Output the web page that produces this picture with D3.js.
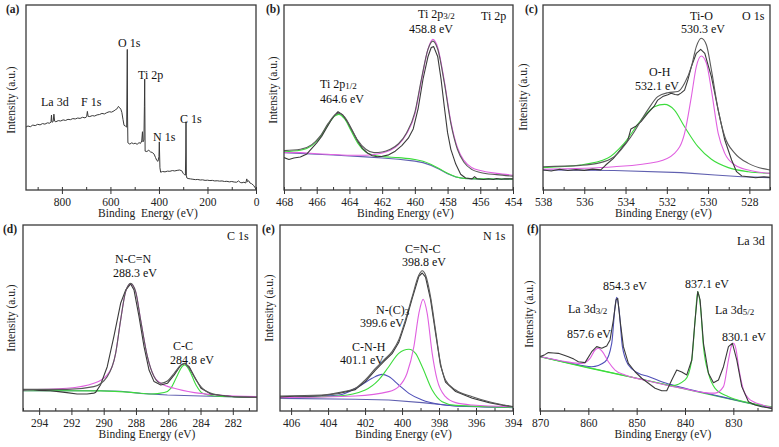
<!DOCTYPE html>
<html><head><meta charset="utf-8">
<script src="https://cdn.jsdelivr.net/npm/d3@7/dist/d3.min.js"></script>
<style>html,body{margin:0;padding:0;background:#fff}svg{display:block}</style>
</head><body>
<svg id="c" width="779" height="447"></svg>
<script>
// ---------- DATA (binding energy eV, intensity a.u.) ----------
const surveyTicks = [800, 600, 400, 200, 0];
const surveySpectrum = [[948,34],[940,34.6],[930,34.2],[920,35.1],[910,34.8],[900,35.5],[890,35.2],[880,35.9],[870,35.6],[860,36.3],[850,36.1],[845,36.8],[843,40.5],[841,36.6],[836,37],[833,41],[830,37.2],[825,36.9],[815,37.5],[805,37.3],[795,37.9],[785,37.6],[775,38.2],[765,38],[755,38.6],[745,38.4],[735,38.9],[725,38.7],[715,39.3],[705,39],[698,39.6],[695,42.5],[692,39.8],[685,39.7],[675,40.2],[665,40],[655,40.6],[645,40.8],[635,41.4],[625,41.1],[615,41.8],[605,42.3],[595,42.1],[585,42.8],[578,43.5],[572,44],[567,45.2],[562,44.5],[557,43.6],[553,42],[548,38],[544,35],[538,34.5],[533,34],[531.5,60],[530.5,76],[529.5,40],[528,25.5],[520,24.8],[512,25.5],[505,25],[498,25.3],[490,24.7],[482,25.6],[476,25.2],[471,26.5],[468,31.5],[466,26],[462,27],[460,45],[458.8,60],[457,21],[450,20.8],[442,21.5],[435,20.6],[428,20.3],[420,19.4],[414,17.5],[409,16],[404,15.5],[400,18],[398.5,26],[396,12],[393,9.6],[385,10],[375,9.8],[365,10.2],[355,10.1],[345,10.5],[335,10.3],[325,10.6],[315,10.8],[306,10.4],[300,9],[295,8.3],[291,8],[289.5,20],[288.5,36.9],[287,8],[285,6.5],[280,6.2],[270,6],[260,5.8],[250,5.6],[240,5.7],[230,5.4],[220,5.5],[210,5.2],[200,5.3],[190,5.1],[180,5.2],[170,4.9],[160,5],[150,4.8],[140,4.9],[130,4.6],[120,4.7],[110,4.4],[100,4.6],[90,4.3],[80,4.2],[72,4.9],[65,4.1],[58,3.9],[50,4.2],[42,3.8],[38,6],[35,4.5],[30,5],[25,3.8],[18,3.4],[10,2.5],[5,1.5],[0,0.4]];

const tiTicks = [468, 466, 464, 462, 460, 458, 456, 454];
const tiRaw = [[468,17.5],[467.7,16.5],[467.4,17.3],[467,17.8],[466.6,19.5],[466.3,22.5],[466,25.5],[465.7,29],[465.4,33.5],[465.1,38],[464.9,40.5],[464.7,42.3],[464.4,40.5],[464.1,36.5],[463.8,31.5],[463.5,26.5],[463.2,22.5],[462.9,20],[462.6,18.5],[462.3,18],[462,18.2],[461.6,19],[461.2,21],[460.8,24],[460.4,28],[460.1,33],[459.8,44],[459.5,60],[459.2,72],[459,77],[458.85,77.5],[458.6,72],[458.4,60],[458.2,45],[458,31],[457.8,22],[457.5,14],[457.2,8.5],[456.9,6.5],[456.5,6],[456.35,7.2],[456.2,6.1],[455.8,5.7],[455.5,6.1],[455.2,5.7],[455,6.2],[454.7,5.8],[454.5,6.1],[454,6]];
const tiFit = [[468,21.3],[467,22],[466.3,24.5],[465.8,29],[465.3,36],[464.9,40.5],[464.65,41.5],[464.3,39.5],[463.9,33.5],[463.5,27],[463,22],[462.5,20.2],[462,20.5],[461.5,22],[461,25],[460.5,31],[460,42],[459.6,60],[459.2,76],[458.9,80.5],[458.6,76],[458.2,58],[457.8,36],[457.4,22],[457,15],[456.5,11],[456,9.5],[455,8.3],[454,7.5]];
const tiP32 = [[468,20.3],[467,20.2],[466,19.6],[465,19.2],[464,18.8],[463,18.8],[462.5,19.2],[462,20],[461.5,21.5],[461,24.5],[460.5,30.5],[460,41],[459.6,59],[459.2,76],[458.9,81.4],[458.6,77],[458.2,59],[457.8,37],[457.4,23],[457,16],[456.5,12],[456,10.5],[455,9],[454,8]];
const tiP12 = [[468,20.7],[467,21.5],[466.3,24],[465.8,28.5],[465.3,35.5],[464.9,40],[464.65,40.9],[464.3,38.5],[463.9,32],[463.5,25.5],[463,20.5],[462.5,18.8],[462,18.1],[461,17.5],[460,16.5],[459.5,15.5],[459,13.8],[458.5,11.5],[458,9],[457.5,7.2],[457,6.3],[456,6],[454,5.9]];
const tiBg = [[468,20.2],[467,19.8],[466,19.3],[465,18.9],[464,18.4],[463,17.9],[462,17.3],[461,16.6],[460,15.6],[459.5,14.8],[459,13.3],[458.5,11.2],[458,8.8],[457.5,7],[457,6.2],[456,5.9],[454,5.8]];

const oTicks = [538, 536, 534, 532, 530, 528];
const oRaw = [[538,10.8],[537.6,10.3],[537.2,11.2],[536.8,10.5],[536.4,11],[536,10.6],[535.6,11.3],[535.2,10.9],[534.96,13.5],[534.6,17],[534.39,19.8],[534.1,24],[533.9,26.5],[533.74,33],[533.5,34.5],[533.25,37],[532.93,41.4],[532.6,45.5],[532.44,48.6],[532.2,50.5],[531.95,51.5],[531.79,52.3],[531.6,51.6],[531.46,51.4],[531.3,52.5],[531.14,54],[530.98,59.5],[530.81,66.7],[530.57,73.9],[530.36,76],[530.16,73.9],[529.84,61.3],[529.51,43.2],[529.19,27],[528.86,16.2],[528.62,9.9],[528.37,7.6],[528.05,7.2],[527.7,6.6],[527.3,7.1],[527,6.8]];
const oFit = [[538,12.6],[536.18,13.3],[535.37,14.4],[534.55,18],[533.74,28.8],[532.93,43.2],[532.44,50.5],[531.95,52.6],[531.46,53.2],[531.14,57.7],[530.81,66.7],[530.57,77.5],[530.33,82],[530.08,78.4],[529.84,64.9],[529.51,43.2],[529.19,28.8],[528.7,19.8],[528.05,14.4],[527,10.8]];
const oTiO = [[538,11.2],[534.55,12.6],[532.44,15.3],[531.63,19.8],[531.14,30.6],[530.81,50.5],[530.57,66.7],[530.33,72.4],[530.08,68.5],[529.84,54],[529.51,30.6],[529.19,19.8],[528.7,13.5],[528.05,10.8],[527,9]];
const oOH = [[538,12.1],[536.18,13.5],[534.88,17.1],[534.07,25.2],[533.25,37.8],[532.6,45],[532.11,46.3],[531.63,43.2],[531.14,34.2],[530.49,23.4],[529.84,16.6],[529.02,12.1],[528.05,9.9],[527,9]];
const oBg = [[538,10.8],[534.55,10.5],[531.3,9.4],[529.67,8.1],[528.37,7.2],[527,6.7]];

const cTicks = [294, 292, 290, 288, 286, 284, 282];
const cRaw = [[295,11.3],[294.5,11.6],[294,11.1],[293.31,10.9],[292.8,10.4],[292.28,9.9],[291.65,9.1],[291.03,9.1],[290.61,9.6],[290.51,9.9],[290.2,14],[289.78,23.8],[289.37,40],[288.95,57.9],[288.64,65],[288.33,68.3],[288.12,65],[287.81,50.7],[287.5,34.6],[287.19,22],[286.88,15.8],[286.46,14],[286.05,14.9],[285.63,19.4],[285.21,24.7],[284.97,25.6],[284.7,23.8],[284.38,18.5],[283.97,12.2],[283.35,9.1],[282.5,8.2],[281.89,7.7],[281.2,7.5],[280.5,7.3]];
const cFit = [[295,11.6],[292.28,11.6],[290.61,13.1],[289.78,18.5],[289.26,31],[288.95,48.9],[288.64,64.2],[288.33,68.6],[288.02,64.2],[287.71,48.9],[287.29,29.2],[286.88,18.5],[286.46,14.9],[286.05,16.1],[285.63,20.3],[285.21,24.7],[285,25.6],[284.7,22.9],[284.28,16.7],[283.76,11.3],[282.93,8.6],[281.89,7.7],[280.5,7.3]];
const cNCN = [[295,11.3],[292.28,12.2],[290.61,14.9],[289.78,19.4],[289.26,31],[288.95,48.9],[288.64,64.2],[288.33,68.3],[288.02,64.2],[287.71,48.9],[287.29,29.2],[286.88,18.5],[286.46,14.9],[285.63,12.2],[284.38,9.9],[282.93,8.6],[280.5,7.7]];
const cCC = [[295,10.9],[290.2,10.8],[288.12,9.9],[287.08,9.1],[286.25,9.9],[285.84,12.2],[285.42,19.4],[285.11,24.2],[284.97,24.7],[284.7,22],[284.28,14],[283.87,9.5],[283.14,8.1],[280.5,7.3]];
const cBg = [[295,10.9],[290.2,10.9],[288.95,10.6],[287.71,9.5],[286.05,8.6],[283.97,8.1],[280.5,7.3]];

const nTicks = [406, 404, 402, 400, 398, 396, 394];
const nRaw = [[406.6,7.6],[405.8,7.9],[405,8],[404.34,8.3],[403.43,9.4],[402.53,11.5],[401.99,15.8],[401.44,22],[400.99,26.6],[400.54,30.8],[400.18,36.8],[399.82,47.5],[399.45,60.5],[399.09,72.4],[398.91,74.2],[398.73,72],[398.46,60],[398.19,42],[397.92,24.5],[397.65,15.5],[397.1,10.5],[396.2,6.9],[395.29,4.5],[394.5,3],[394,2.4]];
const nFit = [[406.6,8.1],[404.34,8.6],[403.43,9.9],[402.53,12.2],[401.99,16.7],[401.44,22.9],[400.99,27.4],[400.54,31.9],[400.18,38.2],[399.82,48.9],[399.45,61.5],[399.09,73.1],[398.91,75.4],[398.73,73.1],[398.46,61.5],[398.19,43.5],[397.92,25.6],[397.65,16.7],[397.1,11.3],[396.2,7.7],[395.29,5],[394,2.3]];
const nCNC = [[406.6,7.2],[402.53,8.1],[400.72,10.4],[400.18,13.1],[399.73,20.3],[399.36,34.6],[399.09,52.5],[398.86,60],[398.64,52.5],[398.37,31],[398.1,16.7],[397.65,7.7],[397.1,4.5],[396.2,3.2],[394,2.3]];
const nNC3 = [[406.6,7.2],[403.43,8.1],[401.99,11.3],[401.26,16.7],[400.72,23.8],[400.18,31],[399.63,33.2],[399.27,31],[398.91,23.8],[398.37,11.3],[397.83,5],[397.1,3],[394,2]];
const nCNH = [[406.6,7.2],[403.43,8.6],[402.35,13.1],[401.62,17.6],[401.08,19.7],[400.72,18.5],[400.18,14],[399.63,9.5],[398.91,5.9],[398.01,3.6],[397.1,2.7],[394,2]];
const nBg = [[406.6,6.8],[402.53,6.3],[400.72,5.9],[398.91,4.5],[397.1,2.7],[394,1.8]];

const laTicks = [870, 860, 850, 840, 830];
const laRaw = [[870,29.2],[869,30.3],[868.27,31.4],[867.2,31.2],[866.2,31],[865,30],[864.13,29.2],[863,27.9],[862.06,26.5],[860.68,26],[859.3,31.9],[858.27,34.6],[857.23,33.7],[856.2,34.9],[855.51,38.2],[854.82,48.9],[854.26,59.7],[853.92,60.6],[853.44,48.9],[852.75,34.6],[851.71,25.6],[850.33,21.1],[848.95,17.6],[847.57,14.9],[846.19,12.2],[844.81,10.9],[843.78,10.9],[842.74,16.7],[841.71,22],[840.67,21],[839.63,19.4],[838.6,27.4],[837.91,48.9],[837.36,64.2],[836.87,59.7],[836.18,36.4],[835.15,20.3],[834.11,15.2],[833.08,16.7],[832.04,23.8],[831.01,34.6],[830.18,36.4],[829.28,27.4],[828.25,13.1],[826.87,5],[825.49,3.2],[824.11,2.3],[822,1.4]];
const laP854 = [[870,29.3],[864,25.9],[859.3,23.8],[856.54,26.5],[855.16,36.4],[854.47,56.1],[854.13,61.1],[853.64,54.3],[852.95,34.6],[851.71,24.7],[849.64,20.3],[847.57,18.5],[844,15],[840,12.2],[834,8.6],[828,5],[822,1.5]];
const laP858 = [[870,29.3],[864.82,26.6],[861.37,25.5],[859.65,28.3],[858.61,32.8],[857.92,33.7],[857.09,31.9],[855.85,26.5],[854.47,22],[852.4,19.4],[848,16.4],[844,14],[840,11.9],[836,9.9],[833.77,9.6],[832.04,13.1],[831.01,27.4],[830.32,35.5],[829.97,36.4],[829.49,33.7],[828.8,22],[827.9,11.3],[826.87,6.8],[824,3.2],[822,1.8]];
const laP837 = [[870,29.2],[860,23.2],[850,17.6],[845,14.8],[842.74,13.6],[839.98,16.7],[838.6,27.4],[837.91,48.9],[837.36,64.2],[836.8,56.1],[836.18,34.6],[835.15,20.3],[833.77,12.2],[831.01,7.7],[826.87,4.5],[822,2.3]];
const laBg = [[870,29.2],[822,1.4]];

// ---------- STYLE ----------
const FONT = "'Liberation Serif','Times New Roman',serif";
const C_RAW = "#3a3a3a", C_FIT = "#5a5a5a", C_MAG = "#e060e0", C_GRN = "#3ddc3d", C_BLU = "#5050b8", C_BG = "#6060b0";

const svg = d3.select("#c");
let clipId = 0;

function drawPanel(p) {
  const g = svg.append("g");
  const x = d3.scaleLinear().domain(p.domain).range([p.left, p.right]);
  const y = d3.scaleLinear().domain([0, 100]).range([p.bottom, p.top]);
  const id = "clip" + (clipId++);
  g.append("clipPath").attr("id", id).append("rect")
    .attr("x", p.left).attr("y", p.top).attr("width", p.right - p.left).attr("height", p.bottom - p.top);
  const cg = g.append("g").attr("clip-path", `url(#${id})`);
  p.series.forEach(s => {
    const line = d3.line().x(d => x(d[0])).y(d => y(d[1]))
      .curve(s.smooth ? d3.curveMonotoneX : d3.curveLinear);
    cg.append("path").datum(s.data).attr("d", line)
      .attr("fill", "none").attr("stroke", s.color).attr("stroke-width", s.w || 1.1)
      .attr("stroke-linejoin", "round");
  });
  // minor ticks (inward)
  const minorAxis = d3.axisBottom(x).tickValues(p.minor).tickSize(-3).tickFormat("");
  const ma = g.append("g").attr("transform", `translate(0,${p.bottom})`).call(minorAxis);
  ma.select(".domain").remove();
  ma.selectAll("line").attr("stroke", "#333");
  // major ticks
  const axis = d3.axisBottom(x).tickValues(p.ticks).tickSize(4).tickPadding(4).tickFormat(d3.format("d"));
  const ax = g.append("g").attr("transform", `translate(0,${p.bottom})`).call(axis);
  ax.select(".domain").remove();
  ax.selectAll("line").attr("stroke", "#333");
  ax.selectAll("text").attr("font-family", FONT).attr("font-size", 11.5).attr("fill", "#222");
  // frame
  g.append("rect").attr("x", p.left).attr("y", p.top).attr("width", p.right - p.left).attr("height", p.bottom - p.top)
    .attr("fill", "none").attr("stroke", "#3a3a3a").attr("stroke-width", 1.3);
  // titles
  g.append("text").attr("x", (p.left + p.right) / 2 + 7).attr("y", p.bottom + 27)
    .attr("text-anchor", "middle").attr("font-family", FONT).attr("font-size", 11.5).attr("fill", "#222")
    .style("white-space", "pre").text(p.xTitle || "Binding Energy (eV)");
  g.append("text").attr("transform", `translate(${p.yTitleX},${p.yTitleY}) rotate(-90)`)
    .attr("text-anchor", "middle").attr("font-family", FONT).attr("font-size", 11.5).attr("fill", "#222")
    .text("Intensity (a.u.)");
  g.append("text").attr("x", p.tagX).attr("y", p.top + 8).attr("font-family", FONT).attr("font-size", 11.5)
    .attr("font-weight", "bold").attr("fill", "#222").text(p.tag);
  // annotations
  p.notes.forEach(n => {
    const t = g.append("text").attr("x", n[0]).attr("y", n[1]).attr("font-family", FONT)
      .attr("font-size", n[3] || 12).attr("fill", "#111").attr("text-anchor", n[4] || "start");
    const parts = Array.isArray(n[2]) ? n[2] : [n[2]];
    parts.forEach((s, i) => {
      const ts = t.append("tspan").text(s);
      if (i === 1) ts.attr("font-size", 9).attr("dy", 1);
    });
  });
}

function minorBetween(lo, hi, step) {
  return d3.range(lo, hi + step / 2, step);
}

drawPanel({ left: 26, right: 256, top: 5, bottom: 190, domain: [948, 0], ticks: surveyTicks, minor: minorBetween(0, 900, 100),
  series: [{ data: surveySpectrum, color: C_RAW, w: 1 }],
  xTitle: "Binding  Energy (eV)", yTitleX: 15, yTitleY: 100, tag: "(a)", tagX: 6,
  notes: [[118, 47, "O 1s"], [138, 79, "Ti 2p"], [41, 106, "La 3d"], [81, 106, "F 1s"], [153, 141, "N 1s"], [180, 123, "C 1s"]] });

drawPanel({ left: 284, right: 513, top: 5, bottom: 190, domain: [468, 454], ticks: tiTicks, minor: minorBetween(454, 468, 1),
  series: [{ data: tiBg, color: C_BG }, { data: tiP12, color: C_GRN, smooth: true }, { data: tiP32, color: C_MAG, smooth: true },
           { data: tiRaw, color: C_RAW }, { data: tiFit, color: C_FIT, smooth: true }],
  yTitleX: 277, yTitleY: 90, tag: "(b)", tagX: 266,
  notes: [[418, 18, ["Ti 2p", "3/2"]], [409, 33, "458.8 eV"], [481, 20, "Ti 2p"], [320, 88, ["Ti 2p", "1/2"]], [320, 103, "464.6 eV"]] });

drawPanel({ left: 543, right: 770, top: 5, bottom: 190, domain: [538, 527], ticks: oTicks, minor: minorBetween(527, 538, 1),
  series: [{ data: oBg, color: C_BG }, { data: oOH, color: C_GRN, smooth: true }, { data: oTiO, color: C_MAG, smooth: true },
           { data: oRaw, color: C_RAW }, { data: oFit, color: C_FIT, smooth: true }],
  yTitleX: 527, yTitleY: 97, tag: "(c)", tagX: 525,
  notes: [[690, 20, "Ti-O"], [681, 33, "530.3 eV"], [742, 20, "O 1s"], [649, 76, "O-H"], [635, 90, "532.1 eV"]] });

drawPanel({ left: 23, right: 257, top: 225, bottom: 411, domain: [295, 280.5], ticks: cTicks, minor: minorBetween(281, 295, 1),
  series: [{ data: cBg, color: C_BG }, { data: cCC, color: C_GRN, smooth: true }, { data: cNCN, color: C_MAG, smooth: true },
           { data: cRaw, color: C_RAW }, { data: cFit, color: C_FIT, smooth: true }],
  yTitleX: 15, yTitleY: 318, tag: "(d)", tagX: 3,
  notes: [[227, 240, "C 1s"], [115, 263, "N-C=N"], [113, 277, "288.3 eV"], [173, 350, "C-C"], [170, 364, "284.8 eV"]] });

drawPanel({ left: 280, right: 513, top: 225, bottom: 411, domain: [406.6, 394], ticks: nTicks, minor: minorBetween(394, 406, 1),
  series: [{ data: nBg, color: C_BG }, { data: nCNH, color: C_BLU, smooth: true }, { data: nNC3, color: C_GRN, smooth: true },
           { data: nCNC, color: C_MAG, smooth: true }, { data: nRaw, color: C_RAW }, { data: nFit, color: C_FIT, smooth: true }],
  yTitleX: 273, yTitleY: 308, tag: "(e)", tagX: 262,
  notes: [[483, 240, "N 1s"], [405, 253, "C=N-C"], [402, 266, "398.8 eV"], [376, 314, ["N-(C)", "3"]], [360, 327, "399.6 eV"], [352, 351, "C-N-H"], [340, 364, "401.1 eV"]] });

drawPanel({ left: 540, right: 772, top: 225, bottom: 411, domain: [870, 822], ticks: laTicks, minor: minorBetween(825, 870, 5),
  series: [{ data: laBg, color: C_GRN }, { data: laP854, color: C_BLU, smooth: true }, { data: laP837, color: C_GRN, smooth: true },
           { data: laP858, color: C_MAG, smooth: true }, { data: laRaw, color: C_RAW }],
  yTitleX: 533, yTitleY: 314, tag: "(f)", tagX: 527,
  notes: [[737, 245, "La 3d"], [603, 290, "854.3 eV"], [685, 288, "837.1 eV"], [568, 313, ["La 3d", "3/2"]], [715, 314, ["La 3d", "5/2"]], [567, 338, "857.6 eV"], [722, 341, "830.1 eV"]] });
</script>
</body></html>
